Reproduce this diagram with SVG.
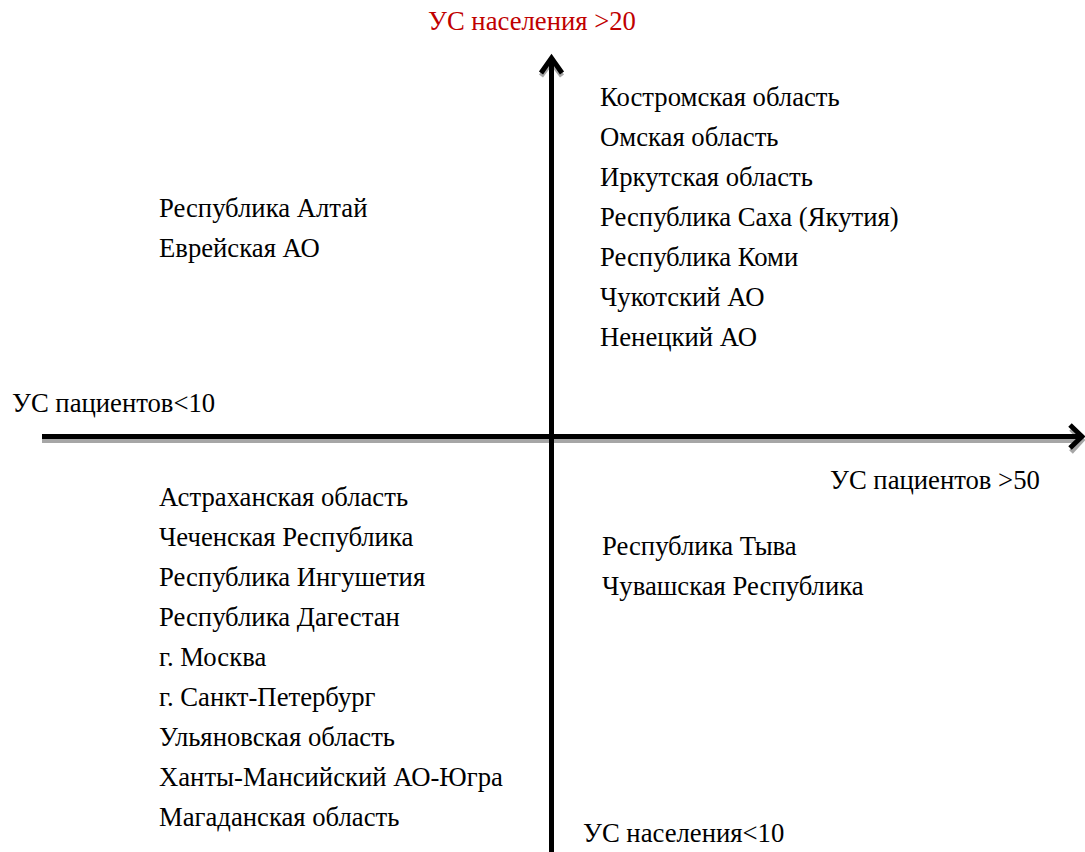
<svg xmlns="http://www.w3.org/2000/svg" width="1085" height="852" viewBox="0 0 1085 852">
<style>
text{font-size:26.7px;fill:#000}
.red{fill:#c00000}
.ax{stroke:#000;stroke-width:5;fill:none;stroke-linecap:butt}
.sh{stroke:#a6a6a6;stroke-width:5;fill:none}
</style>
<rect width="1085" height="852" fill="#fff"/>
<g id="connectors">
<line class="sh" x1="42" y1="440.5" x2="1080" y2="440.5"/>
<polyline class="sh" points="541,76 551.5,62 562,76"/>
<polyline class="sh" points="1071,429 1082,440 1071,452"/>
<line class="ax" x1="42" y1="436.5" x2="1080" y2="436.5"/>
<line class="ax" x1="551.5" y1="58" x2="551.5" y2="852"/>
<polyline class="ax" points="541,73 551.5,58 562,73" stroke-linejoin="miter"/>
<polyline class="ax" points="1070,425 1082,436.5 1070,448"/>
</g>
<g font-family="Liberation Serif, DejaVu Serif, serif">
<g id="axis-labels">
<text class="red" x="428" y="30">УС населения &gt;20</text>
<text x="12" y="412">УС пациентов&lt;10</text>
<text x="830" y="489">УС пациентов &gt;50</text>
<text x="583" y="842">УС населения&lt;10</text>
</g>
<g id="q-top-right">
<text x="600" y="106">Костромская область</text>
<text x="600" y="146">Омская область</text>
<text x="600" y="186">Иркутская область</text>
<text x="600" y="226">Республика Саха (Якутия)</text>
<text x="600" y="266">Республика Коми</text>
<text x="600" y="306">Чукотский АО</text>
<text x="600" y="346">Ненецкий АО</text>
</g>
<g id="q-top-left">
<text x="159" y="217">Республика Алтай</text>
<text x="159" y="257">Еврейская АО</text>
</g>
<g id="q-bottom-left">
<text x="159" y="506">Астраханская область</text>
<text x="159" y="546">Чеченская Республика</text>
<text x="159" y="586">Республика Ингушетия</text>
<text x="159" y="626">Республика Дагестан</text>
<text x="159" y="666">г. Москва</text>
<text x="159" y="706">г. Санкт-Петербург</text>
<text x="159" y="746">Ульяновская область</text>
<text x="159" y="786">Ханты-Мансийский АО-Югра</text>
<text x="159" y="826">Магаданская область</text>
</g>
<g id="q-bottom-right">
<text x="602" y="555">Республика Тыва</text>
<text x="602" y="595">Чувашская Республика</text>
</g>
</g>
</svg>
